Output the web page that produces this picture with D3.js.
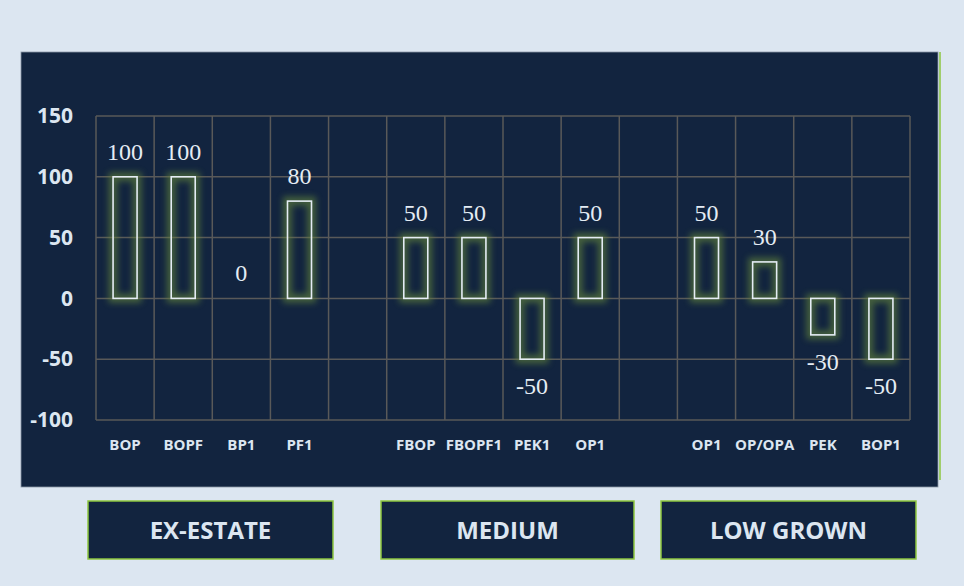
<!DOCTYPE html>
<html>
<head>
<meta charset="utf-8">
<script src="https://cdn.jsdelivr.net/npm/d3@7"></script>
<style>
  html, body { margin: 0; padding: 0; background: #dce6f1; }
  svg { display: block; }
</style>
</head>
<body>
<svg id="chart" width="964" height="586"></svg>
<script>
// Grade names along the x axis (blank columns separate the groups)
const grades = ['BOP', 'BOPF', 'BP1', 'PF1', '', 'FBOP', 'FBOPF1', 'PEK1', 'OP1', '', 'OP1', 'OP/OPA', 'PEK', 'BOP1'];
// Change per grade (null = empty spacer column)
const changes = [100, 100, 0, 80, null, 50, 50, -50, 50, null, 50, 30, -30, -50];
// Elevation groups shown in the boxes under the chart
const groups = ['EX-ESTATE', 'MEDIUM', 'LOW GROWN'];
const yTicks = [-100, -50, 0, 50, 100, 150];

const sans = '"Open Sans", Lato, sans-serif';
const light = '#dce6f1';
const svg = d3.select('#chart');

// glow for the bars
const defs = svg.append('defs');
const glow = defs.append('filter').attr('id', 'glow')
  .attr('x', '-50%').attr('y', '-50%').attr('width', '200%').attr('height', '200%');
glow.append('feGaussianBlur').attr('stdDeviation', 3.4);

// dark panel
svg.append('rect')
  .attr('x', 21).attr('y', 52).attr('width', 917).attr('height', 435)
  .attr('fill', '#12243f').attr('stroke', '#8a96a6').attr('stroke-width', 0.8);
svg.append('line')
  .attr('x1', 940).attr('x2', 940).attr('y1', 52).attr('y2', 480)
  .attr('stroke', '#8dc63f').attr('stroke-width', 1.5);

const plot = { left: 96, right: 910, top: 116, bottom: 420 };

const x = d3.scaleBand()
  .domain(d3.range(grades.length))
  .range([plot.left, plot.right]);

const y = d3.scaleLinear()
  .domain([-100, 150])
  .range([plot.bottom, plot.top]);

// grid
const grid = svg.append('g').attr('stroke', '#595959').attr('stroke-width', 1.5);
grid.selectAll('line.h')
  .data(yTicks)
  .enter().append('line')
  .attr('class', 'h')
  .attr('x1', plot.left).attr('x2', plot.right)
  .attr('y1', d => y(d)).attr('y2', d => y(d));
grid.selectAll('line.v')
  .data(d3.range(grades.length + 1))
  .enter().append('line')
  .attr('class', 'v')
  .attr('x1', i => plot.left + i * x.bandwidth())
  .attr('x2', i => plot.left + i * x.bandwidth())
  .attr('y1', plot.top).attr('y2', plot.bottom);

// y axis labels (plain hyphen for negatives)
const yAxis = d3.axisLeft(y).tickValues(yTicks).tickFormat(d => String(d)).tickSize(0).tickPadding(0);
const gy = svg.append('g')
  .attr('transform', 'translate(73,0)')
  .call(yAxis);
gy.select('.domain').remove();
gy.selectAll('text')
  .attr('fill', light)
  .attr('font-family', sans)
  .attr('font-weight', 'bold')
  .attr('font-size', 21);

// x axis labels
const xAxis = d3.axisBottom(x).tickFormat(i => grades[i]).tickSize(0).tickPadding(0);
const gx = svg.append('g')
  .attr('transform', 'translate(0,439)')
  .call(xAxis);
gx.select('.domain').remove();
gx.selectAll('text')
  .attr('fill', light)
  .attr('font-family', sans)
  .attr('font-weight', 'bold')
  .attr('font-size', 15);

// bars
const barW = 24;
const bars = d3.range(grades.length).filter(i => changes[i] !== null);
const drawn = bars.filter(i => changes[i] !== 0);

svg.append('g').selectAll('rect')
  .data(drawn)
  .enter().append('rect')
  .attr('x', i => x(i) + (x.bandwidth() - barW) / 2)
  .attr('y', i => y(Math.max(0, changes[i])))
  .attr('width', barW)
  .attr('height', i => Math.abs(y(changes[i]) - y(0)))
  .attr('fill', 'none')
  .attr('stroke', '#66883a')
  .attr('stroke-width', 9)
  .attr('opacity', 0.6)
  .attr('filter', 'url(#glow)');

svg.append('g').selectAll('rect')
  .data(drawn)
  .enter().append('rect')
  .attr('x', i => x(i) + (x.bandwidth() - barW) / 2)
  .attr('y', i => y(Math.max(0, changes[i])))
  .attr('width', barW)
  .attr('height', i => Math.abs(y(changes[i]) - y(0)))
  .attr('fill', 'none')
  .attr('stroke', '#e4ecf4')
  .attr('stroke-width', 1.6);

// value labels
svg.append('g').selectAll('text')
  .data(bars)
  .enter().append('text')
  .attr('x', i => x(i) + x.bandwidth() / 2)
  .attr('y', i => changes[i] < 0 ? y(changes[i]) + 35 : y(changes[i]) - 17)
  .attr('text-anchor', 'middle')
  .attr('fill', '#e4ecf4')
  .attr('font-family', '"Liberation Serif", "Times New Roman", serif')
  .attr('font-size', 24)
  .text(i => changes[i]);

// group boxes
const boxLeft = [88, 381, 661];
const boxWidth = [245, 253, 255];
const boxes = svg.append('g').selectAll('g')
  .data(groups)
  .enter().append('g')
  .attr('transform', (d, i) => `translate(${boxLeft[i]},501)`);
boxes.append('rect')
  .attr('width', (d, i) => boxWidth[i]).attr('height', 58)
  .attr('fill', '#12243f')
  .attr('stroke', '#8dc63f').attr('stroke-width', 1.5);
boxes.append('text')
  .attr('x', (d, i) => boxWidth[i] / 2).attr('y', 38)
  .attr('text-anchor', 'middle')
  .attr('fill', light)
  .attr('font-family', sans)
  .attr('font-weight', 'bold')
  .attr('font-size', 24)
  .text(d => d);
</script>
</body>
</html>
